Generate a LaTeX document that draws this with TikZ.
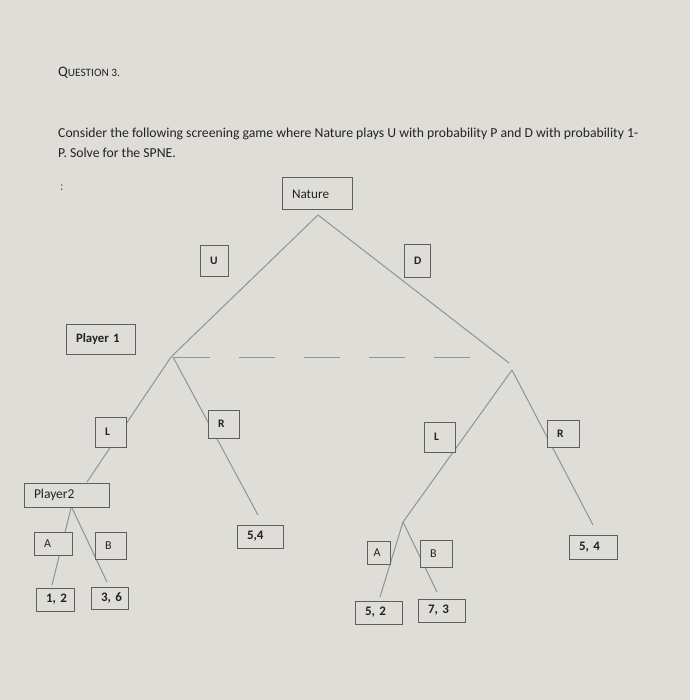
\documentclass[tikz,border=0pt]{standalone}
\usepackage{fontspec}
\setmainfont{Carlito}
\definecolor{bg}{RGB}{223,221,215}
\definecolor{ln}{RGB}{145,147,152}
\definecolor{bx}{RGB}{95,95,95}
\definecolor{tx}{RGB}{35,35,35}
\tikzset{
  box/.style={draw=bx, line width=1pt, fill=bg, inner xsep=9.5pt, inner ysep=0pt,
    align=left, anchor=west, text=tx, font=\fontsize{13.2}{15}\selectfont},
  lbl/.style={box, font=\fontsize{11.5}{13}\selectfont\bfseries},
  ab/.style={box, font=\fontsize{12}{13}\selectfont},
  pay/.style={box, font=\fontsize{13}{14}\selectfont\bfseries},
  edge/.style={draw=ln, line width=1pt},
  txt/.style={anchor=base west, inner sep=0pt, text=tx}
}
\begin{document}
\begin{tikzpicture}[x=1pt,y=-1pt]
\fill[bg] (0,0) rectangle (690,700);
\useasboundingbox (0,0) rectangle (690,700);

% texts
\node[txt] (q) at (58,77) {\fontsize{14.5}{16}\selectfont Q\fontsize{11.3}{16}\selectfont UESTION 3.};
\node[txt, font=\fontsize{13.7}{20}\selectfont] (para1) at (58,138) {Consider the following screening game where Nature plays U with probability P and D with probability 1-};
\node[txt, font=\fontsize{13.7}{20}\selectfont] (para2) at (58,158) {P. Solve for the SPNE.};
\node[txt, text=bx, font=\fontsize{13}{14}\selectfont] (colon) at (60,191) {:};

% tree points
\coordinate (apex) at (318,215);
\coordinate (p1l) at (171,357);
\coordinate (dend) at (509,363);
\coordinate (p1r) at (512,370);
\coordinate (l1end) at (87,482);
\coordinate (r1end) at (258,515);
\coordinate (p2l) at (71,508);
\coordinate (a1end) at (52,585);
\coordinate (b1end) at (107,582);
\coordinate (p2r) at (403,522);
\coordinate (r2end) at (593,525);
\coordinate (a2end) at (380,597);
\coordinate (b2end) at (437,592);
\coordinate (ds) at (174,357);
\coordinate (de) at (474,357);

% branches
\draw[edge] (apex) -- (p1l);
\draw[edge] (apex) -- (dend);
\draw[edge] (p1l) -- (l1end);
\draw[edge] ([xshift=2pt]p1l) -- (r1end);
\draw[edge] (p2l) -- (a1end);
\draw[edge] ([xshift=1pt]p2l) -- (b1end);
\draw[edge] (p1r) -- (p2r);
\draw[edge] (p1r) -- (r2end);
\draw[edge] (p2r) -- (a2end);
\draw[edge] (p2r) -- (b2end);
\draw[edge, dash pattern=on 36pt off 29pt] (ds) -- (de);

% boxes
\node[box, text width=51pt, minimum height=32pt] (nat) at (282,194) {Nature};
\node[lbl, text width=9pt, minimum height=30pt] (u) at (200,261) {\mbox{U}};
\node[lbl, text width=7pt, minimum height=32pt] (d) at (404,261) {\mbox{D}};
\node[box, font=\fontsize{12.8}{14}\selectfont\bfseries, text width=50pt, minimum height=30pt] (pl1) at (66,339) {\mbox{Player 1}};
\node[lbl, text width=12pt, minimum height=30pt] (l1) at (95,432) {\mbox{L}};
\node[lbl, text width=12pt, minimum height=28pt] (r1) at (208,424) {\mbox{R}};
\node[pay, text width=27pt, minimum height=23pt] (pay54a) at (237,536.5) {\mbox{5,4}};
\node[box, font=\fontsize{13.5}{15}\selectfont, text width=66pt, minimum height=24pt] (pl2) at (24,495) {\mbox{Player2}};
\node[ab, text width=19pt, minimum height=23pt] (a1) at (34,543.5) {\mbox{A}};
\node[ab, text width=12pt, minimum height=27pt] (b1) at (95,545.5) {\mbox{B}};
\node[pay, text width=19pt, minimum height=23pt] (pay12) at (36,599.5) {\mbox{1, 2}};
\node[pay, text width=18pt, minimum height=22pt] (pay36) at (91,598) {\mbox{3, 6}};
\node[lbl, text width=12pt, minimum height=30pt] (l2) at (424,437) {\mbox{L}};
\node[lbl, text width=13pt, minimum height=27pt] (r2) at (547,433.5) {\mbox{R}};
\node[pay, text width=29pt, minimum height=24pt] (pay54b) at (569,547) {\mbox{5, 4}};
\node[ab, inner xsep=6pt, text width=11pt, minimum height=23pt] (a2) at (367,552.5) {\mbox{A}};
\node[ab, text width=13pt, minimum height=27pt] (b2) at (420,553.5) {\mbox{B}};
\node[pay, text width=28pt, minimum height=23pt] (pay52) at (355,612.5) {\mbox{5, 2}};
\node[pay, text width=28pt, minimum height=23pt] (pay73) at (418,610.5) {\mbox{7, 3}};
\end{tikzpicture}
\end{document}
